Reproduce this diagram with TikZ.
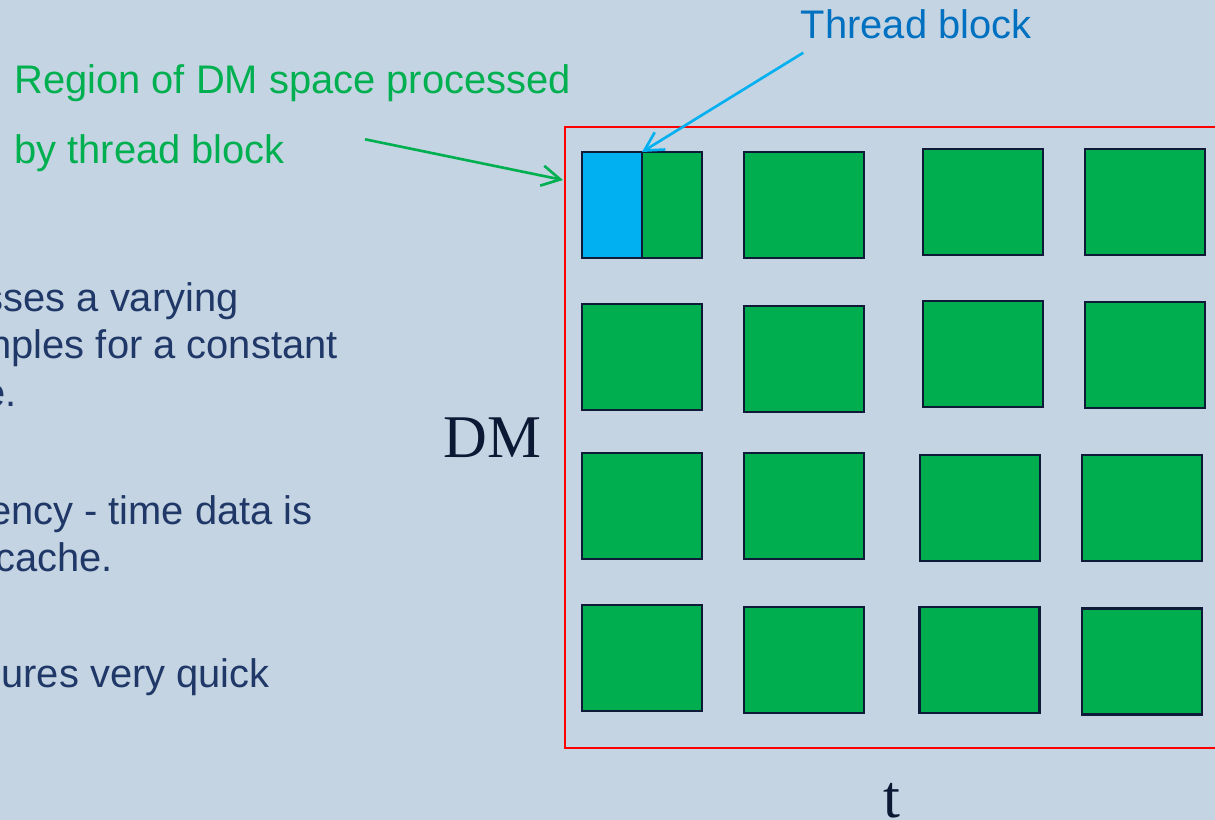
\documentclass[tikz,border=0pt]{standalone}
\usepackage{fontspec}
\setmainfont{Liberation Sans}
\newfontfamily\timesfont{Liberation Serif}
\usetikzlibrary{arrows.meta}

\definecolor{slidebg}{RGB}{196,212,226}
\definecolor{bodynavy}{RGB}{32,56,104}
\definecolor{axisnavy}{RGB}{12,24,52}
\definecolor{notegreen}{RGB}{0,176,80}
\definecolor{blkgreen}{RGB}{0,173,79}
\definecolor{tbblue}{RGB}{0,176,240}
\definecolor{tbtext}{RGB}{0,112,192}
\definecolor{boxline}{RGB}{14,26,56}

\begin{document}
\begin{tikzpicture}[
  x=0.02cm, y=-0.02cm,
  >={Straight Barb[length=10.5pt, width=11.5pt]},
  blk/.style={draw=boxline, fill=blkgreen, line width=1.2pt,
    minimum width=2.4cm, minimum height=2.12cm, inner sep=0pt, outer sep=0pt},
  note/.style={font=\fontsize{22.7}{26}\selectfont, inner sep=0pt,
    anchor=base west},
  body/.style={note, text=bodynavy, anchor=base east},
  axislbl/.style={font=\timesfont\fontsize{34.5}{40}\selectfont,
    text=axisnavy, inner sep=0pt},
  pointer/.style={->, line width=1.5pt},
]

% --- Slide background ---
\fill[slidebg] (0,0) rectangle (1215,820);
\useasboundingbox (0,0) rectangle (1215,820);
\clip (0,0) rectangle (1215,820);

% --- Left body text (cut at the slide edge) ---
\node[body] (l1) at (239,311.7) {sses a varying};
\node[body] (l2) at (338,359) {nples for a constant};
\node[body] (l3) at (17,406.7) {e.};
\node[body] (l4) at (313,525) {ency - time data is};
\node[body] (l5) at (113,571.7) {cache.};
\node[body] (l6) at (270,688) {ures very quick};

% --- DM space frame ---
\node[draw=red, line width=1.2pt, anchor=north west, inner sep=0pt,
  minimum width=13.4cm, minimum height=12.42cm] (dmspace) at (564,126) {};

% --- Blocks of the DM / t grid ---
\foreach \nm/\cx/\cy in {b11/642/205, b12/804/205, b13/982.7/202, b14/1145/202,
  b21/642/357, b22/804/359, b23/982.7/354, b24/1145/355.3,
  b31/642/506.2, b32/804/506.2, b33/980/507.7, b34/1142.3/507.7,
  b41/642/658.2, b42/804/659.7, b43/979.5/660, b44/1142.3/661.5} {
  \node[blk] (\nm) at (\cx,\cy) {};
}

% one thread block inside the first region
\node[blk, fill=tbblue, minimum width=1.2cm] (tb) at (612,205) {};

% --- Axis labels ---
\node[axislbl, anchor=base east] (dm) at (542,457.3) {DM};
\node[axislbl, anchor=base west] (tt) at (883,818) {t};

% --- Annotations ---
\node[note, text=notegreen] (region1) at (14,93.3) {Region of DM space processed};
\node[note, text=notegreen] (region2) at (14,163.3) {by thread block};
\node[note, text=tbtext] (tblbl) at (800.5,39) {Thread block};

\coordinate (greenstart) at (365,139.3);
\coordinate (greentip) at (563,180);
\draw[pointer, notegreen] (greenstart) -- (greentip);

\coordinate (bluestart) at (803.3,52.7);
\draw[pointer, tbblue] (bluestart) -- (tb.north east);

\end{tikzpicture}
\end{document}
